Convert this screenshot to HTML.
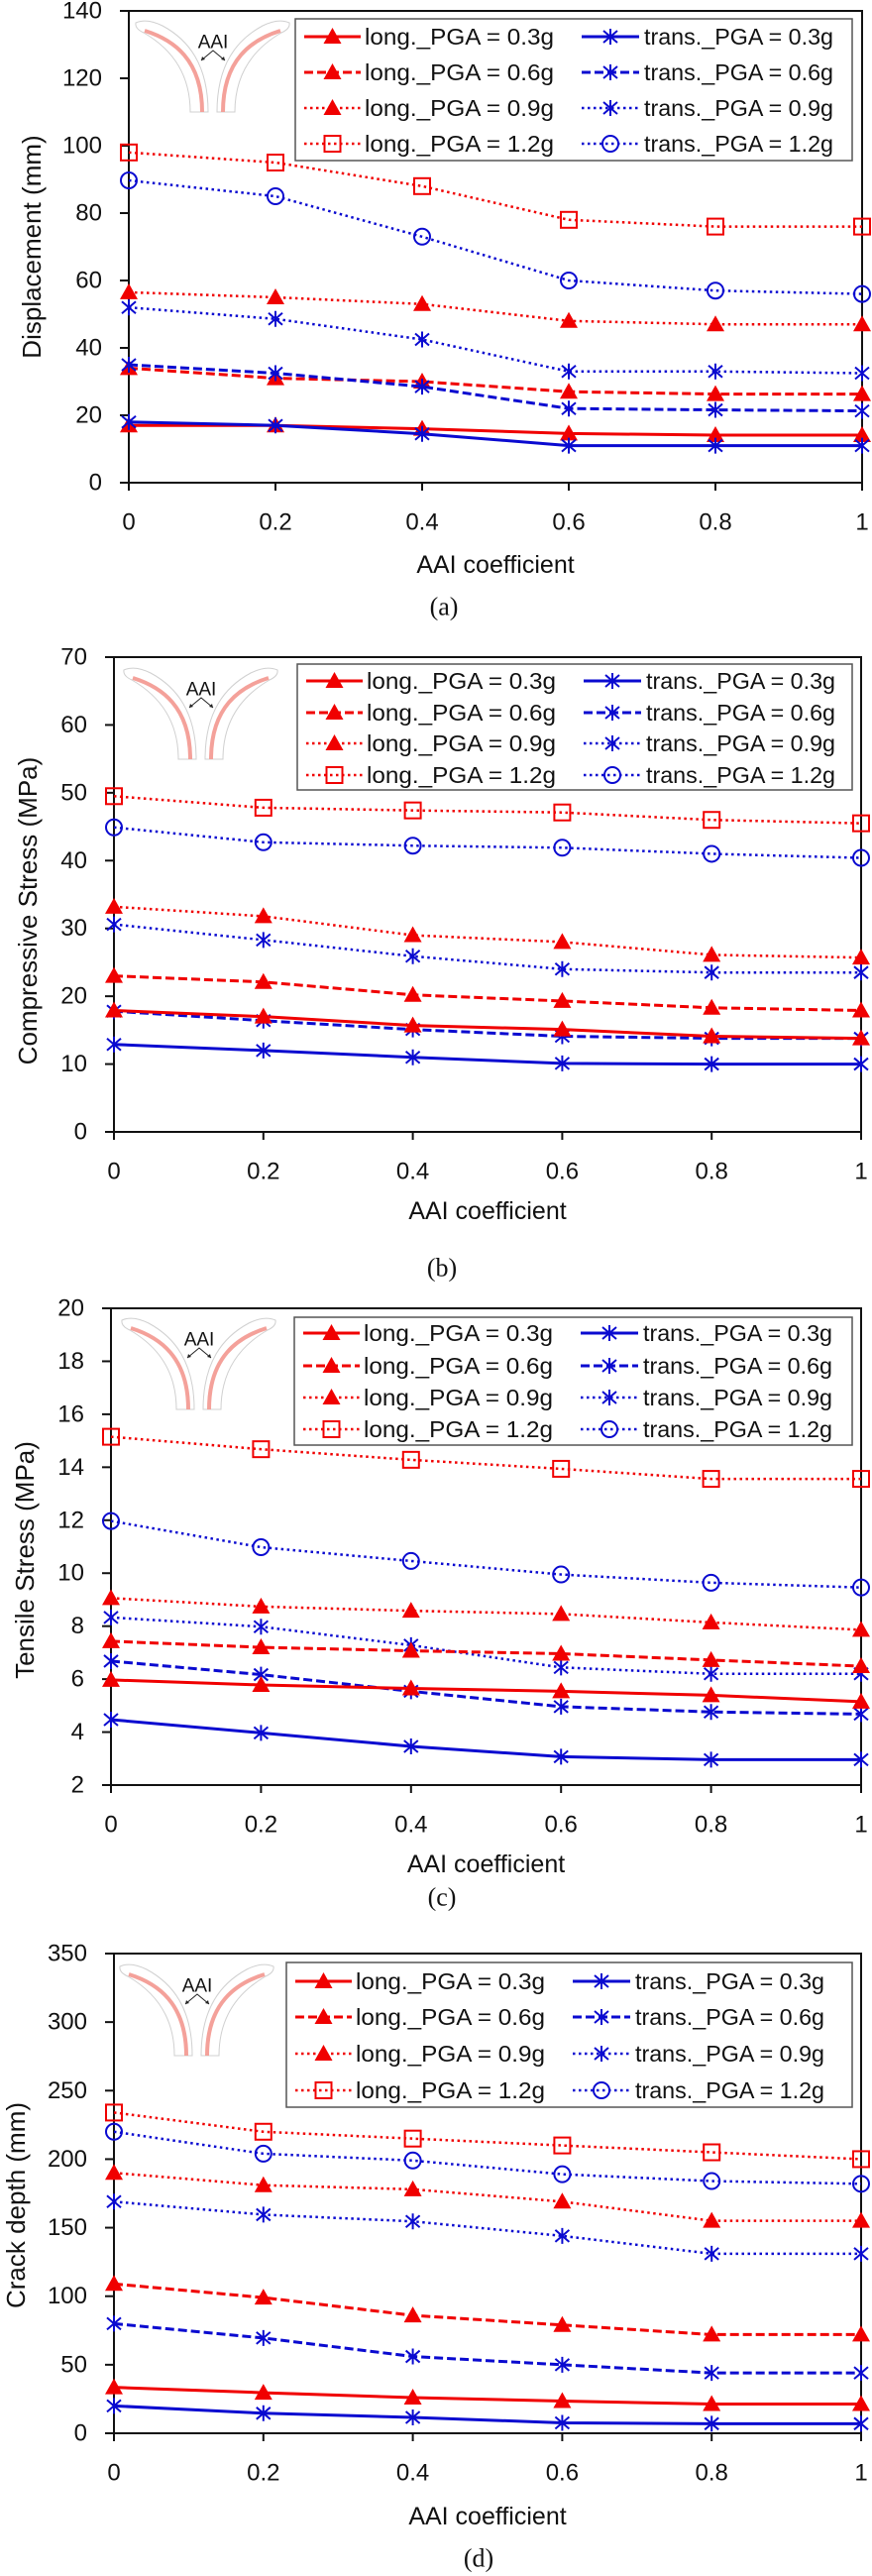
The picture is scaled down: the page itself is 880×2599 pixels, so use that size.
<!DOCTYPE html>
<html><head><meta charset="utf-8">
<style>
html,body{margin:0;padding:0;background:#fff;}
svg{display:block;font-family:"Liberation Sans",sans-serif;}
</style></head>
<body>
<svg id="fig" width="880" height="2599" viewBox="0 0 880 2599" xmlns="http://www.w3.org/2000/svg"></svg>
<script>
// ---- shared data ----
const xCategories = [0, 0.2, 0.4, 0.6, 0.8, 1];
const xTickLabels = ["0", "0.2", "0.4", "0.6", "0.8", "1"];
const seriesNames = ["long._PGA = 0.3g","long._PGA = 0.6g","long._PGA = 0.9g","long._PGA = 1.2g","trans._PGA = 0.3g","trans._PGA = 0.6g","trans._PGA = 0.9g","trans._PGA = 1.2g"];

// ---- (a) displacement ----
const dispLong03 = [17, 17, 16, 14.6, 14.1, 14.1];
const dispLong06 = [34, 31, 30, 27, 26.3, 26.3];
const dispLong09 = [56.5, 55, 53, 48, 47, 47];
const dispLong12 = [98, 95, 88, 78, 76, 76];
const dispTrans03 = [18, 17, 14.5, 11, 11, 11];
const dispTrans06 = [35, 32.5, 28.5, 22, 21.6, 21.3];
const dispTrans09 = [52, 48.6, 42.5, 33, 33, 32.5];
const dispTrans12 = [89.7, 85, 73, 60, 57, 56];
const dispYTicks = ["0","20","40","60","80","100","120","140"];

// ---- (b) compressive stress ----
const compLong03 = [17.9, 17.0, 15.7, 15.1, 14.1, 13.8];
const compLong06 = [23.0, 22.1, 20.2, 19.3, 18.3, 17.9];
const compLong09 = [33.2, 31.8, 29.0, 28.0, 26.1, 25.7];
const compLong12 = [49.5, 47.8, 47.4, 47.1, 46.0, 45.5];
const compTrans03 = [12.9, 12.0, 11.0, 10.1, 10.0, 10.0];
const compTrans06 = [17.8, 16.4, 15.1, 14.1, 13.8, 13.8];
const compTrans09 = [30.6, 28.3, 25.9, 24.0, 23.5, 23.5];
const compTrans12 = [44.9, 42.7, 42.2, 41.9, 41.0, 40.4];
const compYTicks = ["0","10","20","30","40","50","60","70"];

// ---- (c) tensile stress ----
const tensLong03 = [5.97, 5.78, 5.65, 5.54, 5.39, 5.15];
const tensLong06 = [7.43, 7.2, 7.07, 6.96, 6.72, 6.49];
const tensLong09 = [9.06, 8.74, 8.58, 8.46, 8.14, 7.86];
const tensLong12 = [15.15, 14.68, 14.28, 13.94, 13.56, 13.56];
const tensTrans03 = [4.47, 3.97, 3.46, 3.07, 2.96, 2.96];
const tensTrans06 = [6.68, 6.17, 5.54, 4.96, 4.76, 4.68];
const tensTrans09 = [8.33, 7.98, 7.28, 6.44, 6.2, 6.2];
const tensTrans12 = [11.97, 10.98, 10.46, 9.95, 9.64, 9.46];
const tensYTicks = ["2","4","6","8","10","12","14","16","18","20"];

// ---- (d) crack depth ----
const crackLong03 = [33.5, 29.6, 26, 23.5, 21.3, 21.3];
const crackLong06 = [109, 99, 86, 79, 72, 72];
const crackLong09 = [190, 181, 178, 169, 155, 155];
const crackLong12 = [234, 220, 215, 210, 205, 200];
const crackTrans03 = [20, 14.6, 11.6, 7.6, 7, 7];
const crackTrans06 = [80, 69.5, 56, 50, 44, 44];
const crackTrans09 = [169, 159.5, 154.6, 144, 131, 131];
const crackTrans12 = [220, 204, 199, 189, 184, 182];
const crackYTicks = ["0","50","100","150","200","250","300","350"];

const NS = "http://www.w3.org/2000/svg";
const svg = document.getElementById("fig");
function mk(tag, attrs, parent){ const e=document.createElementNS(NS,tag); for(const k in attrs) e.setAttribute(k,attrs[k]); (parent||svg).appendChild(e); return e; }

const RED="#f00000", BLUE="#0a0ad0";
const styles = [
 {c:RED,dash:null,w:3,m:"tri"},{c:RED,dash:"9 4",w:3,m:"tri"},{c:RED,dash:"2.5 3.5",w:2.5,m:"tri"},{c:RED,dash:"2.5 3.5",w:2.5,m:"sq"},
 {c:BLUE,dash:null,w:3,m:"star"},{c:BLUE,dash:"9 4",w:3,m:"star"},{c:BLUE,dash:"2.5 3.5",w:2.5,m:"star"},{c:BLUE,dash:"2.5 3.5",w:2.5,m:"circ"}
];

function marker(g, type, x, y, color){
  let e;
  if(type==="tri"){ e=mk("path",{d:`M${x},${y-9}L${x+9},${y+7}L${x-9},${y+7}Z`,fill:color},g); }
  else if(type==="sq"){ e=mk("rect",{x:x-8,y:y-8,width:16,height:16,fill:"none",stroke:color,"stroke-width":2},g); }
  else if(type==="circ"){ e=mk("circle",{cx:x,cy:y,r:8,fill:"none",stroke:color,"stroke-width":2},g); }
  else { e=mk("path",{d:`M${x},${y-8}L${x},${y+8}M${x-7},${y-6}L${x+7},${y+6}M${x-7},${y+6}L${x+7},${y-6}`,stroke:color,"stroke-width":2,fill:"none"},g); }
  
  
  return e;
}

function inset(ox, oy, name){
  const g = mk("g",{transform:`translate(${ox},${oy})`});
  
  
  const half = (s)=>{
    const h = mk("g",{transform:s},g);
    mk("path",{d:"M17,13 Q28,8 44,16 C70,30 90,55 90,103 L72,103 C72,70 58,42 25,23 Q16,19 17,13Z",fill:"#fff",stroke:"#d0d0d0","stroke-width":1},h);
    mk("path",{d:"M26,21 C55,30 84,50 84,103",fill:"none",stroke:"#f4a19a","stroke-width":4},h);
  };
  half("");
  half("translate(189,0) scale(-1,1)");
  mk("path",{d:"M83,51 L95,41 L107,51",fill:"none",stroke:"#222","stroke-width":1},g);
  mk("path",{d:"M83,51 l1,-4 l3,3Z M107,51 l-1,-4 l-3,3Z",fill:"#222"},g);
  const t = mk("text",{x:95,y:33,"font-size":19,"text-anchor":"middle","dominant-baseline":"central",fill:"#111"},g);
  t.textContent="AAI";
}

function drawPanel(p){
  const g = mk("g",{});
  
  
  const xs = v => p.L + (v - xCategories[0])/(xCategories[xCategories.length-1]-xCategories[0])*(p.R-p.L);
  const ys = v => p.B - (v - p.ymin)/(p.ymax - p.ymin)*(p.B-p.T);
  // frame
  const fr = mk("rect",{x:p.L,y:p.T,width:p.R-p.L,height:p.B-p.T,fill:"none",stroke:"#111","stroke-width":2},g);
  
  
  // y ticks
  p.yTicks.forEach(lbl=>{
    const v=parseFloat(lbl), y=ys(v);
    mk("line",{x1:p.L-9,x2:p.L,y1:y,y2:y,stroke:"#111","stroke-width":2},g);
    const t=mk("text",{x:p.L-27,y:y,"font-size":24,"text-anchor":"end","dominant-baseline":"central",fill:"#111"},g);
    
    
    t.textContent=lbl;
  });
  // x ticks
  xCategories.forEach((v,i)=>{
    const x=xs(v);
    mk("line",{x1:x,x2:x,y1:p.B,y2:p.B+8,stroke:"#111","stroke-width":2},g);
    const t=mk("text",{x:x,y:p.tickY,"font-size":24,"text-anchor":"middle","dominant-baseline":"central",fill:"#111"},g);
    
    
    t.textContent=xTickLabels[i];
  });
  const xl=mk("text",{x:(p.L+p.R)/2,y:p.xlabY,"font-size":25,"text-anchor":"middle","dominant-baseline":"central",fill:"#111"},g);
  
  
  xl.textContent="AAI coefficient";
  const yl=mk("text",{x:p.ytX,y:p.ytY,"font-size":26,"text-anchor":"middle","dominant-baseline":"central",fill:"#111",transform:`rotate(-90 ${p.ytX} ${p.ytY})`},g);
  
  
  yl.textContent=p.ytitle;
  const cap=mk("text",{x:p.capX,y:p.capY,"font-size":26,"text-anchor":"middle","dominant-baseline":"central",fill:"#111","font-family":"Liberation Serif, serif"},g);
  
  
  cap.textContent=p.cap;
  inset(p.insX, p.insY, 'inset-diagram');
  // series: draw order long1.2..., keep similar z
  const order=[3,7,2,6,1,5,0,4];
  order.forEach(si=>{
    const st=styles[si], vals=p.series[si];
    const sg=mk("g",{},g);
    
    
    const d=vals.map((v,i)=>(i?"L":"M")+xs(xCategories[i])+","+ys(v)).join("");
    const pa={d:d,fill:"none",stroke:st.c,"stroke-width":st.w};
    if(st.dash) pa["stroke-dasharray"]=st.dash;
    mk("path",pa,sg);
    vals.forEach((v,i)=>marker(sg,st.m,xs(xCategories[i]),ys(v),st.c));
  });
  // legend
  const lg=mk("g",{},g);
  
  
  mk("rect",{x:p.lx,y:p.ly,width:p.lw,height:p.lh,fill:"#fff",stroke:"#555","stroke-width":1.5},lg);
  seriesNames.forEach((nm,si)=>{
    const col=si<4?0:1, row=si%4, st=styles[si];
    const y=p.rows[row];
    const x0=p.lx+(col?289:9), x1=p.lx+(col?347:66), mx=(x0+x1)/2;
    const eg=mk("g",{},lg);
    
    
    const la={x1:x0,x2:x1,y1:y,y2:y,stroke:st.c,"stroke-width":st.w};
    if(st.dash) la["stroke-dasharray"]=st.dash;
    mk("line",la,eg);
    marker(eg,st.m,mx,y,st.c);
    const t=mk("text",{x:p.lx+(col?352:70),y:y,"font-size":23,"dominant-baseline":"central",fill:"#111",textLength:191,lengthAdjust:"spacingAndGlyphs"},eg);
    t.textContent=nm;
  });
}

drawPanel({name:"chart-displacement",L:130,R:870,T:11,B:487,ymin:0,ymax:140,yTicks:dispYTicks,
  series:[dispLong03,dispLong06,dispLong09,dispLong12,dispTrans03,dispTrans06,dispTrans09,dispTrans12],
  tickY:527,xlabY:570,capX:448,capY:612,cap:"(a)",ytX:32,ytY:249,ytitle:"Displacement (mm)",
  lx:298,ly:19,lw:562,lh:143,rows:[37,73,109,145],insX:120,insY:10});
drawPanel({name:"chart-compressive-stress",L:115,R:869,T:663,B:1142,ymin:0,ymax:70,yTicks:compYTicks,
  series:[compLong03,compLong06,compLong09,compLong12,compTrans03,compTrans06,compTrans09,compTrans12],
  tickY:1182,xlabY:1222,capX:446,capY:1279,cap:"(b)",ytX:28,ytY:919,ytitle:"Compressive Stress (MPa)",
  lx:300,ly:670,lw:560,lh:127,rows:[687,719,750,782],insX:108,insY:663});
drawPanel({name:"chart-tensile-stress",L:112,R:869,T:1320,B:1801,ymin:2,ymax:20,yTicks:tensYTicks,
  series:[tensLong03,tensLong06,tensLong09,tensLong12,tensTrans03,tensTrans06,tensTrans09,tensTrans12],
  tickY:1841,xlabY:1881,capX:446,capY:1914,cap:"(c)",ytX:25,ytY:1574,ytitle:"Tensile Stress (MPa)",
  lx:297,ly:1329,lw:563,lh:129,rows:[1345,1378,1410,1442],insX:106,insY:1319});
drawPanel({name:"chart-crack-depth",L:115,R:869,T:1971,B:2455,ymin:0,ymax:350,yTicks:crackYTicks,
  series:[crackLong03,crackLong06,crackLong09,crackLong12,crackTrans03,crackTrans06,crackTrans09,crackTrans12],
  tickY:2495,xlabY:2539,capX:483,capY:2581,cap:"(d)",ytX:16,ytY:2225,ytitle:"Crack depth (mm)",
  lx:289,ly:1980,lw:571,lh:146,rows:[1999,2035,2072,2109],insX:104,insY:1971});
</script>
</body></html>
